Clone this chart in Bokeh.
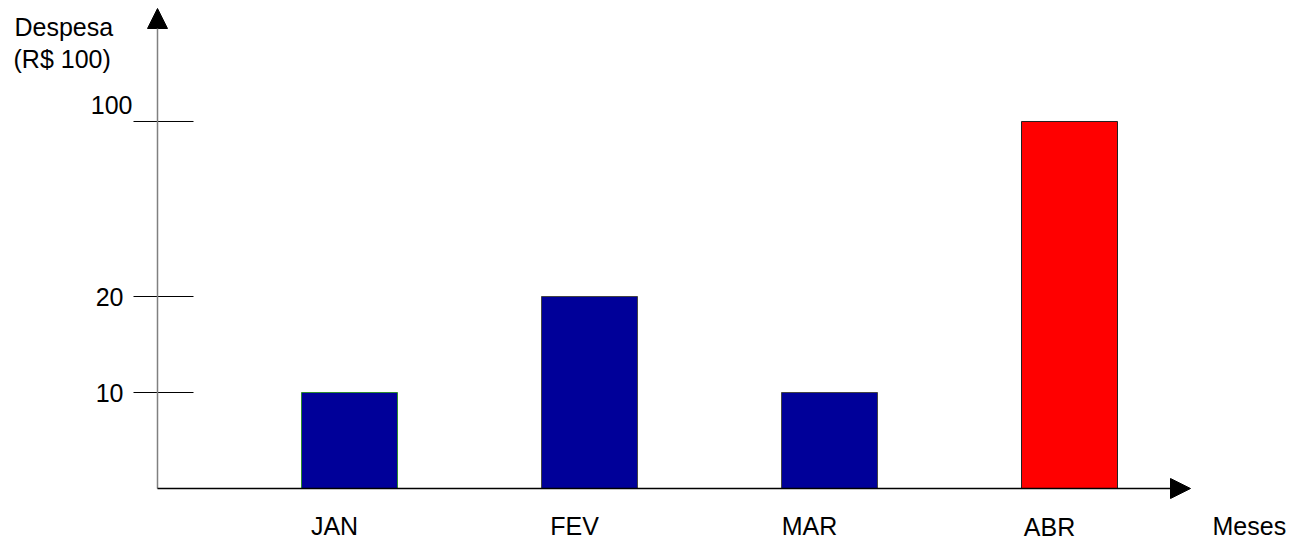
import numpy as np
from bokeh.plotting import figure
from bokeh.models import Range1d, Arrow, NormalHead, ColumnDataSource
from bokeh.core.properties import value
from bokeh.embed import file_html
from bokeh.resources import INLINE

# Monthly spending (in R$ 100)
months = ["JAN", "FEV", "MAR", "ABR"]
spending = [10, 20, 10, 100]
bar_colors = ["#000099", "#000099", "#000099", "#FF0000"]
bar_edges = ["#2E8B2E", "#444444", "#444444", "#222222"]

# Broken (non-proportional) value axis: tick values and where each sits
tick_values = [10, 20, 100]
tick_labels = ["10", "20", "100"]
axis_breaks = [0, 10, 20, 100]
axis_steps = [0.0, 1.0, 2.0, 3.823]

# Pixel layout helpers (first bar centre, spacing, baseline, unit height)
X0, STEP = 349.0, 240.0
Y0, UNIT = 488.0, 96.0
W, H = 1295, 539


def dx(px):
    return (px - X0) / STEP


def dy(py):
    return (Y0 - py) / UNIT


def to_axis(v):
    return np.interp(v, axis_breaks, axis_steps)


FONT = value("Liberation Sans")
FS = "25px"

p = figure(width=W, height=H, x_range=Range1d(dx(0), dx(W)), y_range=Range1d(dy(H), dy(0)),
           min_border=0, toolbar_location=None, output_backend="svg",
           x_axis_location=None, y_axis_location=None)
p.grid.visible = False
p.outline_line_color = None
p.background_fill_color = "white"
p.border_fill_color = "white"

# Bars
src = ColumnDataSource(dict(x=list(range(len(months))), top=to_axis(spending),
                            fill=bar_colors, edge=bar_edges))
p.vbar(x="x", top="top", bottom=0, width=0.4, source=src,
       fill_color="fill", line_color="edge", line_width=1)

# Ticks crossing the value axis
ty = to_axis(tick_values)
p.segment(x0=[dx(133)] * len(ty), x1=[dx(193)] * len(ty), y0=ty, y1=ty,
          line_color="black", line_width=1)

# Tick labels (the top one sits above its tick)
p.text(x=[dx(123), dx(123), dx(132)], y=ty, text=tick_labels,
       y_offset=[0, 0, -16], text_align="right", text_baseline="middle",
       text_font=FONT, text_font_size=FS, text_color="black")

# Axes with arrow heads
p.add_layout(Arrow(x_start=dx(157), y_start=0, x_end=dx(157), y_end=dy(8),
                   line_color="#808080", line_width=1.5,
                   end=NormalHead(size=20, fill_color="black", line_color="black")))
p.add_layout(Arrow(x_start=dx(157), y_start=0, x_end=dx(1190), y_end=0,
                   line_color="black", line_width=1.5,
                   end=NormalHead(size=20, fill_color="black", line_color="black")))

# Month labels under the bars
label_shift = [-15, -15, -20, -20]
label_mid = [525, 525, 525, 526]
p.text(x=list(range(len(months))), y=[dy(b) for b in label_mid], x_offset=label_shift,
       text=months, text_align="center", text_baseline="middle",
       text_font=FONT, text_font_size=FS, text_color="black")

# Axis titles
p.text(x=[dx(14), dx(13)], y=[dy(26), dy(58)], text=["Despesa", "(R$ 100)"],
       text_align="left", text_baseline="middle",
       text_font=FONT, text_font_size=FS, text_color="black")
p.text(x=[dx(1212)], y=[dy(525)], text=["Meses"], text_align="left",
       text_baseline="middle", text_font=FONT, text_font_size=FS, text_color="black")

open("out.html", "w").write(file_html(p, INLINE))
